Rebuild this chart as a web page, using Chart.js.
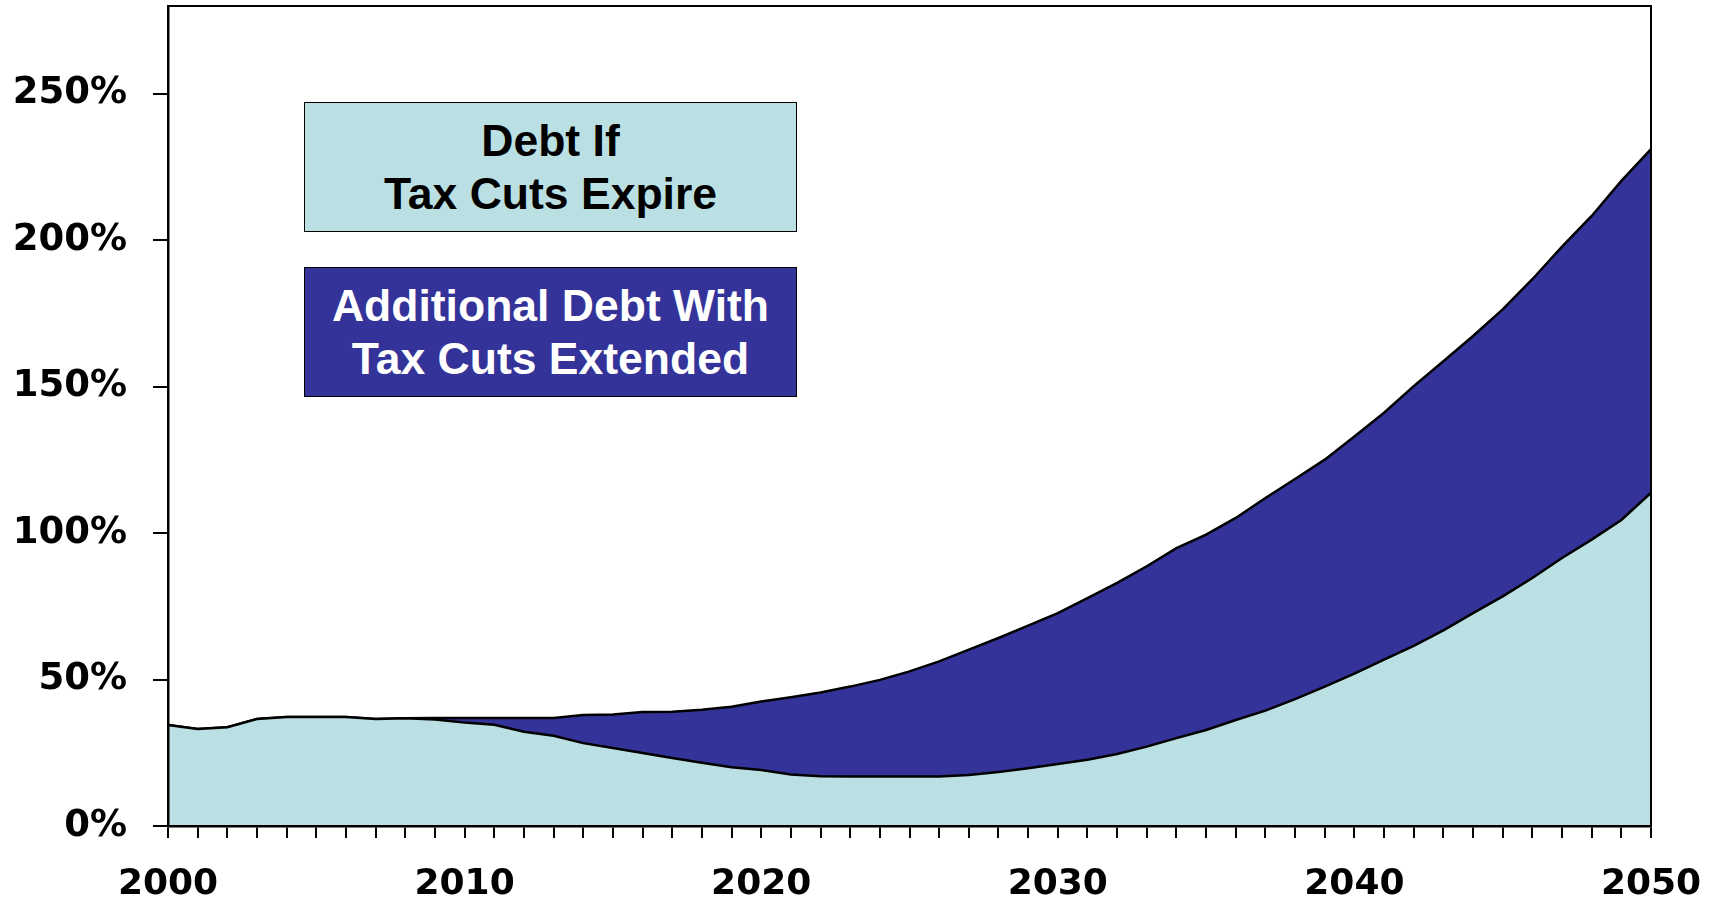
<!DOCTYPE html>
<html>
<head>
<meta charset="utf-8">
<title>Debt If Tax Cuts Expire / Extended</title>
<script src="https://cdn.jsdelivr.net/npm/chart.js@4.4.1/dist/chart.umd.min.js"></script>
<style>
  html, body { margin: 0; padding: 0; background: #ffffff; }
  #wrap { position: relative; width: 1720px; height: 902px; }
  #canvas { display: block; }
  .key {
    position: absolute;
    left: 304px;
    width: 493px;
    height: 130px;
    box-sizing: border-box;
    border: 1.5px solid #000;
    display: flex;
    align-items: center;
    justify-content: center;
    text-align: center;
    font-family: 'Liberation Sans', Arial, sans-serif;
    font-weight: bold;
    font-size: 44.5px;
    line-height: 53px;
  }
</style>
</head>
<body>
<div id="wrap">
  <canvas id="canvas" width="1720" height="902"></canvas>
  <div id="key"></div>
</div>
<script>
// Años (eje horizontal)
var years = [
  2000, 2001, 2002, 2003, 2004, 2005, 2006, 2007, 2008, 2009,
  2010, 2011, 2012, 2013, 2014, 2015, 2016, 2017, 2018, 2019,
  2020, 2021, 2022, 2023, 2024, 2025, 2026, 2027, 2028, 2029,
  2030, 2031, 2032, 2033, 2034, 2035, 2036, 2037, 2038, 2039,
  2040, 2041, 2042, 2043, 2044, 2045, 2046, 2047, 2048, 2049,
  2050
];

// Deuda (% del PIB) si expiran los recortes
var debtIfExpire = [
  34.5, 33.1, 33.7, 36.5, 37.2, 37.2, 37.2, 36.5, 36.8, 36.4,
  35.3, 34.6, 32.2, 30.8, 28.3, 26.6, 24.9, 23.2, 21.6, 20.1,
  19.1, 17.6, 17.0, 16.9, 16.9, 16.9, 16.9, 17.4, 18.4, 19.7,
  21.2, 22.6, 24.6, 27.1, 30.0, 32.8, 36.2, 39.4, 43.3, 47.6,
  52.0, 56.8, 61.5, 66.8, 72.7, 78.4, 84.7, 91.5, 97.8, 104.5,
  113.8
];

// Deuda total (% del PIB) si se extienden los recortes
var debtIfExtended = [
  34.5, 33.1, 33.7, 36.5, 37.2, 37.2, 37.2, 36.5, 36.8, 36.9,
  36.9, 36.9, 36.9, 36.9, 37.9, 38.1, 38.9, 39.0, 39.7, 40.7,
  42.5, 44.0, 45.6, 47.6, 49.9, 52.8, 56.2, 60.2, 64.2, 68.4,
  72.7, 77.8, 83.0, 88.7, 94.9, 99.5, 105.2, 112.0, 118.5, 125.1,
  133.0, 141.1, 150.2, 158.7, 167.3, 176.4, 186.7, 197.8, 208.3, 220.3,
  231.1
];

var seriesNames = [
  'Debt If\nTax Cuts Expire',
  'Additional Debt With\nTax Cuts Extended'
];

var yMax = 280;
var yStep = 50;

/**
 * Dibuja el borde superior y derecho del área del gráfico
 */
var frame = {
  id: 'frame',
  afterDraw: function (c) {
    var a = c.chartArea;
    var ctx = c.ctx;
    ctx.save();
    ctx.strokeStyle = '#000000';
    ctx.lineWidth = 2;
    ctx.beginPath();
    ctx.moveTo(a.left, a.top);
    ctx.lineTo(a.right, a.top);
    ctx.lineTo(a.right, a.bottom);
    ctx.stroke();
    ctx.restore();
  }
};

/**
 * Leyenda en HTML: una caja por dataset con su color de relleno
 */
var keyTops = [102, 267];
var keyText = ['#000000', '#ffffff'];
var htmlKey = {
  id: 'htmlKey',
  afterUpdate: function (c) {
    var holder = document.getElementById('key');
    holder.innerHTML = '';
    c.data.datasets.forEach(function (ds, i) {
      var box = document.createElement('div');
      box.className = 'key';
      box.style.top = keyTops[i] + 'px';
      box.style.background = ds.backgroundColor;
      box.style.color = keyText[i];
      var inner = document.createElement('div');
      ds.label.split('\n').forEach(function (line, j) {
        if (j > 0) inner.appendChild(document.createElement('br'));
        inner.appendChild(document.createTextNode(line));
      });
      box.appendChild(inner);
      holder.appendChild(box);
    });
  }
};

var tickFont = { family: 'DejaVu Sans', weight: 'bold' };

var chart = new Chart(document.getElementById('canvas'), {
  type: 'line',
  data: {
    labels: years,
    datasets: [{
      label: seriesNames[0],
      data: debtIfExpire,
      backgroundColor: '#bbe0e3',
      borderColor: '#000000',
      borderWidth: 2.5,
      fill: 'origin'
    }, {
      label: seriesNames[1],
      data: debtIfExtended,
      backgroundColor: '#333399',
      borderColor: '#000000',
      borderWidth: 2.5,
      fill: '-1'
    }]
  },
  options: {
    responsive: false,
    animation: false,
    layout: { padding: { top: 6, right: 69, bottom: 0, left: 0 } },
    elements: { point: { radius: 0, hoverRadius: 0 }, line: { tension: 0 } },
    plugins: {
      legend: { display: false },
      tooltip: { enabled: false }
    },
    scales: {
      x: {
        afterFit: function (s) {
          s.height = 76;
          s.paddingLeft = 0;
          s.paddingRight = 0;
        },
        ticks: {
          autoSkip: false,
          maxRotation: 0,
          padding: 25,
          color: '#000000',
          font: Object.assign({ size: 36 }, tickFont),
          callback: function (v, i) {
            var yr = years[i];
            return yr % 10 === 0 ? String(yr) : '';
          }
        },
        grid: { drawOnChartArea: false, drawTicks: true, tickLength: 12, color: '#000000', lineWidth: 2 },
        border: { display: true, color: '#000000', width: 2.5, z: 1 }
      },
      y: {
        min: 0,
        max: yMax,
        afterFit: function (s) {
          s.width = 168;
          s.paddingTop = 0;
          s.paddingBottom = 0;
        },
        ticks: {
          stepSize: yStep,
          includeBounds: false,
          padding: 26,
          color: '#000000',
          font: Object.assign({ size: 37 }, tickFont),
          callback: function (v) { return v + '%'; }
        },
        grid: { drawOnChartArea: false, drawTicks: true, tickLength: 15, color: '#000000', lineWidth: 2 },
        border: { display: true, color: '#000000', width: 2.5, z: 1 }
      }
    }
  },
  plugins: [frame, htmlKey]
});
</script>
</body>
</html>
